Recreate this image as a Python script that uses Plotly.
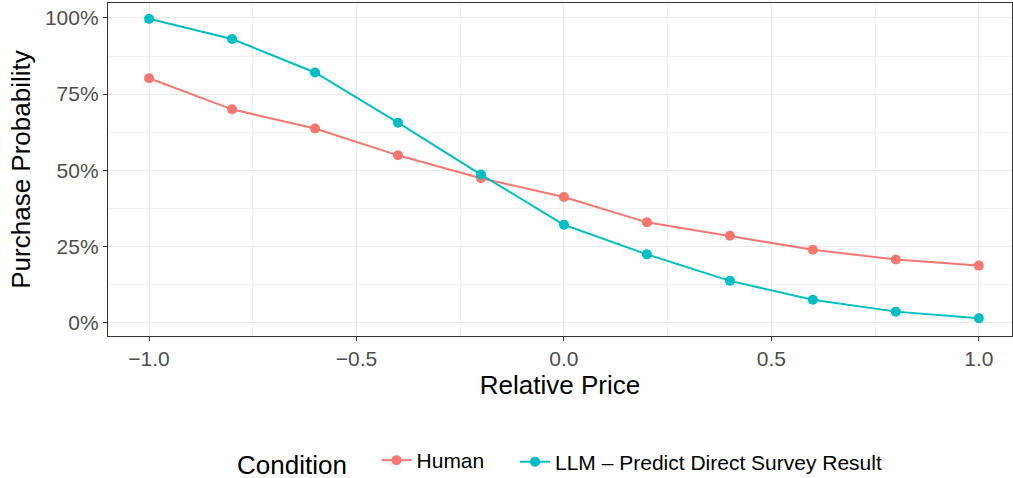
import plotly.graph_objects as go

relative_price = [-1.0, -0.8, -0.6, -0.4, -0.2, 0.0, 0.2, 0.4, 0.6, 0.8, 1.0]
human = [0.802, 0.700, 0.637, 0.549, 0.474, 0.412, 0.329, 0.285, 0.239, 0.207, 0.187]
llm = [0.997, 0.931, 0.821, 0.656, 0.486, 0.321, 0.224, 0.137, 0.075, 0.036, 0.014]
series_names = ["Human", "LLM – Predict Direct Survey Result"]
series_colors = ["#F8766D", "#00BFC4"]
y_ticks = [0, 0.25, 0.5, 0.75, 1.0]
y_tick_labels = ["0%", "25%", "50%", "75%", "100%"]
x_ticks = [-1.0, -0.5, 0.0, 0.5, 1.0]
x_tick_labels = ["−1.0", "−0.5", "0.0", "0.5", "1.0"]

FONT = "Liberation Sans, Arial, Helvetica"

fig = go.Figure()
for name, vals, col, lg in zip(series_names, [human, llm], series_colors, ["legend", "legend2"]):
    fig.add_trace(go.Scatter(
        x=relative_price, y=vals, name=name, mode="lines+markers",
        line=dict(color=col, width=2),
        marker=dict(color=col, size=10),
        legend=lg, showlegend=True,
    ))

axis_common = dict(
    showline=True, linecolor="#333333", linewidth=1.3, mirror=True,
    ticks="outside", ticklen=4, tickcolor="#333333", tickwidth=1.3,
    showgrid=True, gridcolor="#EBEBEB", gridwidth=1.4,
    zeroline=False, automargin=False,
    tickfont=dict(family=FONT, size=21, color="#4D4D4D"),
)

fig.update_xaxes(
    range=[-1.099, 1.08], tickvals=x_ticks, ticktext=x_tick_labels,
    title=dict(text="Relative Price", font=dict(family=FONT, size=26, color="black"), standoff=5),
    minor=dict(tickvals=[-0.75, -0.25, 0.25, 0.75], showgrid=True, gridcolor="#F2F2F2", gridwidth=0.8, ticks=""),
    **axis_common,
)
fig.update_yaxes(
    range=[-0.044, 1.049], tickvals=y_ticks, ticktext=y_tick_labels,
    title=dict(text="Purchase Probability", font=dict(family=FONT, size=26, color="black"), standoff=6),
    minor=dict(tickvals=[0.125, 0.375, 0.625, 0.875], showgrid=True, gridcolor="#F2F2F2", gridwidth=0.8, ticks=""),
    **axis_common,
)

legend_common = dict(
    orientation="h", xref="container", yref="container", xanchor="left",
    y=1 - 462 / 478, yanchor="middle",
    font=dict(family=FONT, size=21, color="black"),
    itemwidth=30, bgcolor="rgba(0,0,0,0)",
)

fig.update_layout(
    width=1013, height=478,
    margin=dict(l=108, r=1, t=3, b=142),
    plot_bgcolor="white", paper_bgcolor="white",
    font=dict(family=FONT, color="black"),
    showlegend=True,
    legend=dict(
        x=235 / 1013,
        title=dict(text="Condition\u00a0\u00a0\u00a0", font=dict(family=FONT, size=26, color="black")),
        **legend_common,
    ),
    legend2=dict(x=515 / 1013, **legend_common),
)

fig.write_html(
    "out.html",
    config={"displayModeBar": False},
    post_script="document.body.style.margin='0';document.body.style.overflow='hidden';",
)
